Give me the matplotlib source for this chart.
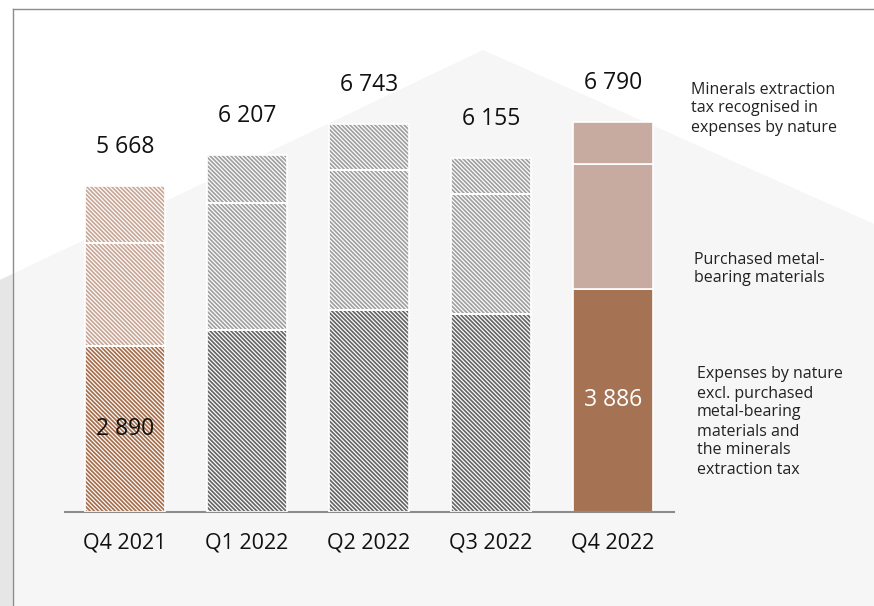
import matplotlib
matplotlib.use("Agg")
import matplotlib.pyplot as plt
from matplotlib.patches import Polygon
from matplotlib.lines import Line2D

# ---- data (RUB mln) ----
quarters = ["Q4 2021", "Q1 2022", "Q2 2022", "Q3 2022", "Q4 2022"]
expenses_excl = [2890, 3165, 3513, 3438, 3886]
purchased_materials = [1794, 2202, 2435, 2087, 2174]
met_tax = [984, 840, 795, 630, 730]

series_labels = [
    "Expenses by nature\nexcl. purchased\nmetal-bearing\nmaterials and\nthe minerals\nextraction tax",
    "Purchased metal-\nbearing materials",
    "Minerals extraction\ntax recognised in\nexpenses by nature",
]
inner_labelled = {0: "#111111", 4: "white"}


def fmt(v):
    return f"{v:,}".replace(",", " ")


W, H = 874, 606
plt.rcParams["font.family"] = ["Open Sans", "DejaVu Sans"]
plt.rcParams["hatch.linewidth"] = 1.25

fig = plt.figure(figsize=(W / 100, H / 100), dpi=100)
fig.patch.set_facecolor("white")


def fx(x):
    return x / W


def fy(y):
    return 1 - y / H


# background "roof" shape and outer frame
fig.add_artist(Polygon([(fx(0), fy(280)), (fx(483), fy(50)), (fx(874), fy(224)),
                        (fx(874), fy(606)), (fx(0), fy(606))],
                       closed=True, transform=fig.transFigure,
                       facecolor="#f6f6f6", edgecolor="none", zorder=0))
fig.add_artist(Polygon([(fx(0), fy(280)), (fx(12.5), fy(274)),
                        (fx(12.5), fy(606)), (fx(0), fy(606))],
                       closed=True, transform=fig.transFigure,
                       facecolor="#e6e6e6", edgecolor="none", zorder=0))
frame_kw = dict(transform=fig.transFigure, color="#8c8c8c", lw=1.0, zorder=1)
fig.add_artist(Line2D([fx(12.5), fx(874)], [fy(8.5), fy(8.5)], **frame_kw))
fig.add_artist(Line2D([fx(12.5), fx(12.5)], [fy(8.5), fy(606)], **frame_kw))

# chart area
px_per_unit = 0.0575
ax = fig.add_axes([fx(65), fy(512), fx(674) - fx(65), fy(50) - fy(512)])
ax.set_facecolor("none")
ax.set_xlim(-0.49, 4.5)
ax.set_ylim(0, (512 - 50) / px_per_unit)

segments = [expenses_excl, purchased_materials, met_tax]
brown_hatch = ["#a66f4c", "#c9a797", "#c9a797"]
grey_hatch = ["#666666", "#a0a0a0", "#a0a0a0"]
solid = ["#a57353", "#c8aba0", "#c8aba0"]
hatch_colours = [brown_hatch, grey_hatch, grey_hatch, grey_hatch, None]
bw = 0.66

for i in range(len(quarters)):
    base = 0
    for j, vals in enumerate(segments):
        v = vals[i]
        if hatch_colours[i] is None:
            ax.bar(i, v, bottom=base, width=bw, color=solid[j],
                   edgecolor="white", linewidth=1.2, zorder=2)
        else:
            ax.bar(i, v, bottom=base, width=bw, facecolor="white",
                   edgecolor=hatch_colours[i][j], hatch="\\" * 8,
                   linewidth=0, zorder=2)
            ax.bar(i, v, bottom=base, width=bw, facecolor="none",
                   edgecolor="white", linewidth=1.2, zorder=3)
        base += v
    ax.annotate(fmt(base), (i, base), xytext=(0, 28), textcoords="offset points",
                ha="center", va="center", fontsize=16.5, color="#111111")
    if i in inner_labelled:
        ax.text(i, expenses_excl[i] / 2, fmt(expenses_excl[i]), ha="center",
                va="center", fontsize=16.5, color=inner_labelled[i], zorder=4)

ax.set_xticks(range(len(quarters)), quarters, fontsize=15.5, color="#111111")
ax.tick_params(axis="x", length=0, pad=15)
ax.set_yticks([])
for s in ["top", "left", "right"]:
    ax.spines[s].set_visible(False)
ax.spines["bottom"].set_color("#8c8c8c")
ax.spines["bottom"].set_linewidth(1.5)

# series descriptions to the right
for label, (x, y) in zip(series_labels, [(697, 422), (694, 269), (691, 108.5)]):
    fig.text(fx(x), fy(y), label, ha="left", va="center", fontsize=11.5,
             color="#222222", linespacing=1.25)

fig.savefig("out.png", dpi=100)
